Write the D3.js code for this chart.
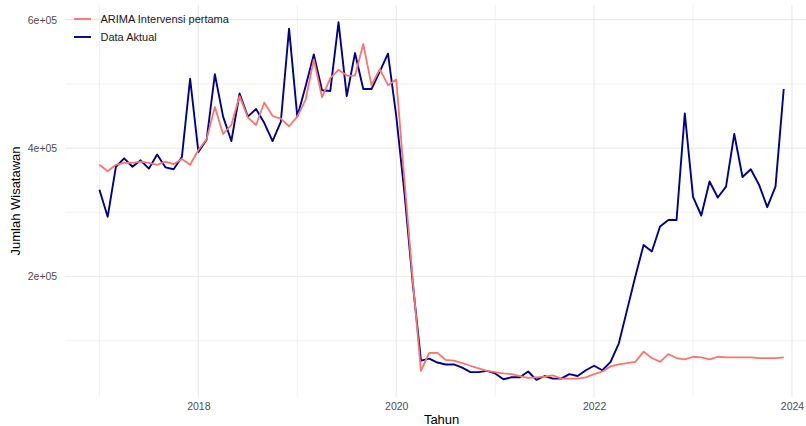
<!DOCTYPE html>
<html>
<head>
<meta charset="utf-8">
<script src="https://cdn.jsdelivr.net/npm/d3@7"></script>
<style>
  html, body { margin: 0; padding: 0; background: #fff; }
  svg { display: block; font-family: "Liberation Sans", Arial, sans-serif; }
</style>
</head>
<body>
<svg id="chart" width="806" height="426"></svg>
<script>
// Monthly series, January 2017 - December 2023
const startYear = 2017;

const dataAktual = [
  335000, 293000, 371000, 384000, 371000, 381000, 368000, 390000, 370000, 367000, 386000, 508000,
  394000, 413000, 515000, 449000, 411000, 485000, 449000, 461000, 439000, 411000, 441000, 586000,
  449000, 496000, 546000, 490000, 489000, 596000, 481000, 548000, 492000, 492000, 519000, 547000,
  450000, 330000, 190000, 69000, 72000, 66000, 63000, 63000, 58000, 51000, 51000, 53000,
  49000, 40000, 43000, 43000, 52000, 39000, 45000, 41000, 41000, 48000, 45000, 54000,
  61000, 54000, 67000, 96000, 148000, 200000, 249000, 239000, 278000, 288000, 288000, 454000,
  324000, 295000, 348000, 323000, 340000, 422000, 355000, 367000, 343000, 308000, 340000, 492000
];

const arimaIntervensi = [
  374000, 364000, 374000, 377000, 377000, 379000, 377000, 374000, 379000, 375000, 383000, 374000,
  397000, 414000, 464000, 422000, 436000, 481000, 448000, 436000, 471000, 450000, 446000, 434000,
  449000, 475000, 538000, 479000, 509000, 522000, 513000, 513000, 562000, 498000, 523000, 498000,
  507000, 350000, 195000, 53000, 81000, 81000, 70000, 69000, 65000, 61000, 57000, 53000,
  51000, 49000, 48000, 45000, 42000, 43000, 44000, 46000, 41000, 41000, 41000, 43000,
  48000, 52000, 60000, 63000, 65000, 67000, 83000, 73000, 67000, 79000, 73000, 71000,
  75000, 74000, 71000, 75000, 74000, 74000, 74000, 74000, 73000, 73000, 73000, 74000
];

const seriesNames = ["ARIMA Intervensi pertama", "Data Aktual"];
const seriesColors = ["#F8766D", "#00008B"];

const xMajorTicks = [2018, 2020, 2022, 2024];
const xMinorTicks = [2017, 2019, 2021, 2023];
const yMajorTicks = [200000, 400000, 600000];
const yMajorLabels = ["2e+05", "4e+05", "6e+05"];
const yMinorTicks = [100000, 300000, 500000];

const svg = d3.select("#chart");

const panel = { left: 65.2, right: 818, top: 5, bottom: 397 };

const x = d3.scaleLinear()
  .domain([2016.654, 2024.263])
  .range([panel.left, panel.right]);

const y = d3.scaleLinear()
  .domain([12300, 622900])
  .range([panel.bottom, panel.top]);

const t = i => startYear + i / 12;

// grid
const grid = svg.append("g").attr("class", "grid");
grid.selectAll("line.ymin").data(yMinorTicks).join("line")
  .attr("x1", panel.left).attr("x2", panel.right)
  .attr("y1", d => y(d)).attr("y2", d => y(d))
  .attr("stroke", "#EBEBEB").attr("stroke-width", 0.7);
grid.selectAll("line.xmin").data(xMinorTicks).join("line")
  .attr("y1", panel.top).attr("y2", panel.bottom)
  .attr("x1", d => x(d)).attr("x2", d => x(d))
  .attr("stroke", "#EBEBEB").attr("stroke-width", 0.7);
grid.selectAll("line.ymaj").data(yMajorTicks).join("line")
  .attr("x1", panel.left).attr("x2", panel.right)
  .attr("y1", d => y(d)).attr("y2", d => y(d))
  .attr("stroke", "#EBEBEB").attr("stroke-width", 1.2);
grid.selectAll("line.xmaj").data(xMajorTicks).join("line")
  .attr("y1", panel.top).attr("y2", panel.bottom)
  .attr("x1", d => x(d)).attr("x2", d => x(d))
  .attr("stroke", "#EBEBEB").attr("stroke-width", 1.2);

// axes (labels only)
const xAxis = d3.axisBottom(x).tickValues(xMajorTicks).tickFormat(d3.format("d")).tickSize(0).tickPadding(0);
const gx = svg.append("g").attr("transform", `translate(0,${panel.bottom + 6})`).call(xAxis);
gx.select(".domain").remove();
gx.selectAll("text").attr("fill", "#4D4D4D").attr("font-size", 10.5).attr("font-family", "Liberation Sans, Arial, sans-serif");

const yAxis = d3.axisLeft(y).tickValues(yMajorTicks)
  .tickFormat((d, i) => yMajorLabels[i]).tickSize(0).tickPadding(0);
const gy = svg.append("g").attr("transform", `translate(${panel.left - 8},0)`).call(yAxis);
gy.select(".domain").remove();
gy.selectAll("text").attr("fill", "#4D4D4D").attr("font-size", 10.5).attr("font-family", "Liberation Sans, Arial, sans-serif");

// axis titles
svg.append("text")
  .attr("x", (panel.left + panel.right) / 2).attr("y", 424)
  .attr("text-anchor", "middle").attr("font-size", 13).attr("fill", "#000")
  .text("Tahun");
svg.append("text")
  .attr("transform", `translate(20,${(panel.top + panel.bottom) / 2}) rotate(-90)`)
  .attr("text-anchor", "middle").attr("font-size", 13).attr("fill", "#000")
  .text("Jumlah Wisatawan");

// lines
const line = d3.line().x((d, i) => x(t(i))).y(d => y(d));

svg.append("path").datum(dataAktual)
  .attr("fill", "none").attr("stroke", seriesColors[1])
  .attr("stroke-width", 1.9).attr("stroke-linejoin", "round")
  .attr("d", line);

svg.append("path").datum(arimaIntervensi)
  .attr("fill", "none").attr("stroke", seriesColors[0])
  .attr("stroke-width", 1.8).attr("stroke-linejoin", "round")
  .attr("d", line);

// legend
const legend = svg.append("g").attr("transform", "translate(74,19)");
seriesNames.forEach((name, i) => {
  const g = legend.append("g").attr("transform", `translate(0,${i * 18})`);
  g.append("line").attr("x1", 0).attr("x2", 17).attr("y1", 0).attr("y2", 0)
    .attr("stroke", seriesColors[i]).attr("stroke-width", 1.9);
  g.append("text").attr("x", 26.5).attr("y", 4).attr("font-size", 11)
    .attr("fill", "#1a1a1a").text(name);
});
</script>
</body>
</html>
